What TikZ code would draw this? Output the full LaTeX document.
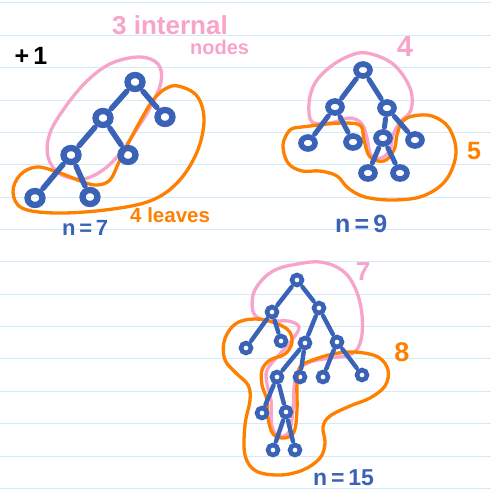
\documentclass[tikz,border=0pt]{standalone}
\usepackage{fontspec}
\setmainfont{Liberation Sans}
\usetikzlibrary{shapes.geometric}
\definecolor{tblue}{RGB}{58,98,182}
\definecolor{tpink}{RGB}{248,164,202}
\definecolor{torange}{RGB}{255,128,0}
\definecolor{paperline}{RGB}{210,235,250}
\begin{document}
\begin{tikzpicture}[x=1pt,y=-1pt,
  nA/.style={ellipse, draw=tblue, line width=6.3pt, minimum width=15pt, minimum height=14pt, inner sep=0pt},
  nB/.style={ellipse, draw=tblue, line width=5.6pt, minimum width=14pt, minimum height=12pt, inner sep=0pt},
  nC/.style={ellipse, draw=tblue, line width=4.6pt, minimum width=10pt, minimum height=10pt, inner sep=0pt},
  eA/.style={draw=tblue, line width=5.5pt, line cap=round, shorten <=2pt, shorten >=2pt},
  eB/.style={draw=tblue, line width=5pt, line cap=round, shorten <=2pt, shorten >=2pt},
  eC/.style={draw=tblue, line width=4.4pt, line cap=round, shorten <=1.5pt, shorten >=1.5pt},
  pinkloop/.style={draw=tpink, line width=3.3pt},
  orangeloop/.style={draw=torange, line width=3.3pt},
  lbl/.style={inner sep=0pt, anchor=base west},
  dig/.style={inner sep=0pt, anchor=center},
  rule/.style={draw=paperline, line width=1pt}
]
\useasboundingbox (0,0) rectangle (491,492);
\fill[white] (0,0) rectangle (491,492);
\foreach \k in {0,...,15}{
  \pgfmathsetmacro{\yy}{3+32.36*\k}
  \draw[rule] (0,\yy) -- (491,\yy);
}

% ---------- loops ----------
\draw[pinkloop] plot[smooth cycle, tension=0.6] coordinates {(140,57) (158,64) (161,82) (150,108) (135,132) (118,156) (100,172) (82,179) (60,174) (48,157) (50,133) (66,106) (88,80) (112,63)};
\draw[orangeloop] plot[smooth cycle, tension=0.6] coordinates {(178,86) (197,96) (204,120) (197,152) (178,182) (150,201) (105,210) (55,213) (22,208) (13,192) (20,175) (37,167) (60,173) (83,182) (97,185) (110,180) (119,162) (130,140) (142,118) (153,100) (165,89)};

\draw[pinkloop] plot[smooth cycle, tension=0.6] coordinates {(367,53) (393,64) (410,88) (411,110) (400,122) (393,135) (390,150) (381,158) (371,155) (367,138) (362,124) (350,118) (330,123) (312,122) (309,103) (315,83) (330,67) (349,56)};
\draw[orangeloop] plot[smooth cycle, tension=0.6] coordinates {(302,127) (290,130) (283,145) (288,163) (302,171) (320,171) (337,176) (348,188) (365,197) (393,200) (423,196) (446,180) (456,153) (449,128) (432,116) (413,116) (402,122) (397,135) (394,150) (384,161) (370,157) (364,140) (361,126) (347,123) (327,124) (310,126)};

\draw[pinkloop] plot[smooth cycle, tension=0.6] coordinates {(292,265) (320,262) (343,271) (356,290) (362,315) (361,340) (352,354) (330,358) (310,362) (298,371) (294,388) (293,410) (289,432) (279,436) (272,426) (271,400) (267,384) (267,370) (278,356) (292,340) (299,327) (288,321) (268,321) (254,314) (253,295) (262,280) (275,270)};
\draw[orangeloop] plot[smooth cycle, tension=0.6] coordinates {(262,370) (270,360) (285,354) (292,342) (287,329) (265,320) (245,320) (232,327) (224,342) (225,360) (236,373) (248,385) (250,400) (245,425) (245,455) (256,471) (280,475) (303,470) (320,458) (325,443) (323,427) (330,416) (350,406) (370,398) (385,386) (388,370) (378,357) (355,352) (333,354) (313,360) (300,367) (297,385) (297,410) (294,432) (284,438) (273,434) (268,418) (267,400) (262,385)};

% ---------- tree n=7 ----------
\node[nA] (a0) at (135,82) {};
\node[nA] (a1) at (103,118) {};
\node[nA] (a2) at (165,117) {};
\node[nA] (a3) at (71,155) {};
\node[nA] (a4) at (128,155) {};
\node[nA] (a5) at (35,198) {};
\node[nA] (a6) at (90,197) {};
\draw[eA] (a0) -- (a1);
\draw[eA] (a0) -- (a2);
\draw[eA] (a1) -- (a3);
\draw[eA] (a1) -- (a4);
\draw[eA] (a3) -- (a5);
\draw[eA] (a3) -- (a6);

% ---------- tree n=9 ----------
\node[nB] (b0) at (363,70) {};
\node[nB] (b1) at (335,107) {};
\node[nB] (b2) at (387,108) {};
\node[nB] (b3) at (308,143) {};
\node[nB] (b4) at (353,142) {};
\node[nB] (b5) at (383,138) {};
\node[nB] (b6) at (415,140) {};
\node[nB] (b7) at (368,173) {};
\node[nB] (b8) at (400,173) {};
\draw[eB] (b0) -- (b1);
\draw[eB] (b0) -- (b2);
\draw[eB] (b1) -- (b3);
\draw[eB] (b1) -- (b4);
\draw[eB] (b2) -- (b5);
\draw[eB] (b2) -- (b6);
\draw[eB] (b5) -- (b7);
\draw[eB] (b5) -- (b8);

% ---------- tree n=15 ----------
\node[nC] (c0) at (297,280) {};
\node[nC] (c1) at (272,312) {};
\node[nC] (c2) at (319,308) {};
\node[nC] (c3) at (246,348) {};
\node[nC] (c4) at (281,341) {};
\node[nC] (c5) at (305,343) {};
\node[nC] (c6) at (337,342) {};
\node[nC] (c7) at (277,377) {};
\node[nC] (c8) at (300,377) {};
\node[nC] (c9) at (323,377) {};
\node[nC] (c10) at (362,375) {};
\node[nC] (c11) at (262,413) {};
\node[nC] (c12) at (286,412) {};
\node[nC] (c13) at (273,450) {};
\node[nC] (c14) at (295,450) {};
\draw[eC] (c0) -- (c1);
\draw[eC] (c0) -- (c2);
\draw[eC] (c1) -- (c3);
\draw[eC] (c1) -- (c4);
\draw[eC] (c2) -- (c5);
\draw[eC] (c2) -- (c6);
\draw[eC] (c5) -- (c7);
\draw[eC] (c5) -- (c8);
\draw[eC] (c6) -- (c9);
\draw[eC] (c6) -- (c10);
\draw[eC] (c7) -- (c11);
\draw[eC] (c7) -- (c12);
\draw[eC] (c12) -- (c13);
\draw[eC] (c12) -- (c14);

% ---------- labels ----------
\node[dig, text=black, font=\bfseries\fontsize{25}{25}\selectfont] (plus) at (31,56) {+\,1};
\node[lbl, text=tpink, font=\bfseries\fontsize{26}{26}\selectfont] (int1) at (112,35) {3 internal};
\node[lbl, text=tpink, font=\bfseries\fontsize{20}{20}\selectfont] (int2) at (190,55) {nodes};
\node[lbl, text=tblue, font=\bfseries\fontsize{22}{22}\selectfont] (n7) at (62,235) {n\,=\,7};
\node[lbl, text=torange, font=\bfseries\fontsize{20.5}{20.5}\selectfont] (lv) at (130,222) {4 leaves};
\node[dig, text=tpink, font=\bfseries\fontsize{29}{29}\selectfont] (p4) at (405,47) {4};
\node[dig, text=torange, font=\bfseries\fontsize{25}{25}\selectfont] (o5) at (474,151) {5};
\node[lbl, text=tblue, font=\bfseries\fontsize{25}{25}\selectfont] (n9) at (335,232) {n\,=\,9};
\node[dig, text=tpink, font=\bfseries\fontsize{26}{26}\selectfont] (p7) at (363,272) {7};
\node[dig, text=torange, font=\bfseries\fontsize{27}{27}\selectfont] (o8) at (402,352) {8};
\node[lbl, text=tblue, font=\bfseries\fontsize{23}{23}\selectfont] (n15) at (313,485) {n\,=\,15};
\end{tikzpicture}
\end{document}
